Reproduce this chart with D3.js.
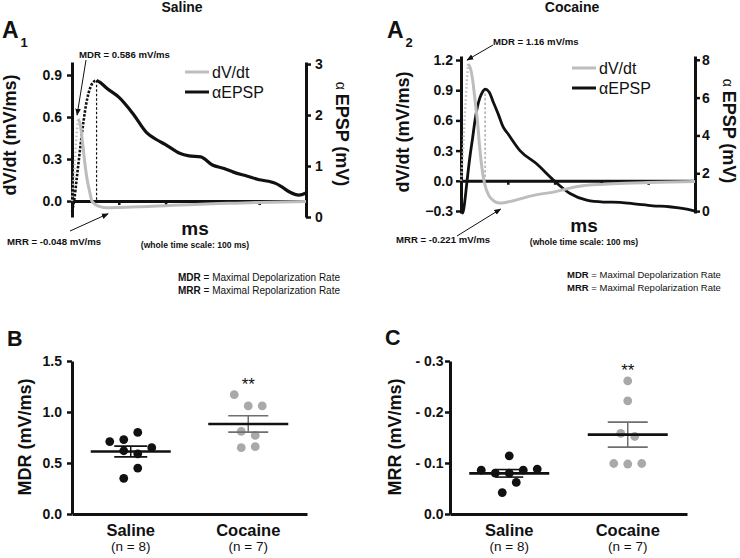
<!DOCTYPE html>
<html><head><meta charset="utf-8">
<script src="https://cdn.jsdelivr.net/npm/d3@7"></script>
<style>
body{margin:0;background:#fff}
svg{display:block}
text{font-family:"Liberation Sans",Arial,Helvetica,sans-serif;fill:#111}
</style>
</head><body>
<svg id="c" width="740" height="558"></svg>
<script>
// ---------------- DATA ----------------
// Panel A1 (Saline) traces, time in ms
const tEpspA1 = [0,1,2,3,4,5,6,7,8,9,10.5,12,15,20,26,32,36,40,46,50,55,60,65,69,75,80,84,87,90,93,97,100];
const epspA1  = [0.1,0.35,0.75,1.15,1.55,1.9,2.2,2.42,2.56,2.64,2.68,2.64,2.52,2.35,2.03,1.65,1.52,1.42,1.25,1.2,1.18,1.02,0.95,0.88,0.8,0.73,0.7,0.66,0.58,0.49,0.43,0.47];
const tDvA1   = [0,1,2,2.6,3.5,4.5,5.5,6.5,7.5,8.5,10,12,15,20,30,40,50,60,70,80,90,100];
const dvA1    = [0,0.22,0.48,0.586,0.55,0.42,0.27,0.15,0.07,0.0,-0.025,-0.04,-0.048,-0.046,-0.04,-0.033,-0.026,-0.02,-0.015,-0.01,-0.006,-0.003];
// Panel A2 (Cocaine) traces
const tEpspA2 = [0,0.8,1.7,2.5,3.8,5,6,7,8.1,9.2,10.3,12,14,16,18,20,25.2,32.3,39.5,46.6,53.7,60.9,68,75,82,89,96.5,100];
const epspA2  = [0.05,-0.1,0.6,1.5,2.86,3.9,4.8,5.5,6.0,6.3,6.45,6.3,5.7,5.1,4.45,4.1,3.2,2.5,1.64,0.93,0.58,0.48,0.46,0.37,0.28,0.23,0.1,0.0];
const tDvA2   = [0,1,2,3,4,5,6,7,8,9,10,12,14,16.5,19,22,26,32,40,46,52,61,70,80,90,100];
const dvA2    = [0,0.35,0.8,1.16,1.12,1.0,0.8,0.6,0.33,0.12,-0.02,-0.15,-0.2,-0.221,-0.215,-0.2,-0.175,-0.14,-0.11,-0.075,-0.05,-0.035,-0.025,-0.018,-0.012,-0.008];
const msTicks = [20,40,60,80];
const dvTicksA1 = [0,0.3,0.6,0.9];
const epspTicksA1 = [0,1,2,3];
const dvTicksA2 = [-0.3,0,0.3,0.6,0.9,1.2];
const epspTicksA2 = [0,2,4,6,8];

// Panels B and C
const groups = ["Saline","Cocaine"];
const groupN = ["(n = 8)","(n = 7)"];
const mdrSaline  = [0.80,0.73,0.71,0.65,0.62,0.59,0.45,0.35];
const mdrCocaine = [1.17,1.06,1.06,0.81,0.77,0.66,0.65];
const mrrSaline  = [-0.114,-0.088,-0.086,-0.086,-0.080,-0.080,-0.062,-0.042];
const mrrCocaine = [-0.261,-0.222,-0.158,-0.152,-0.099,-0.098,-0.099];
const mdrTicks = [0,0.5,1.0,1.5];
const mrrTicks = [0,-0.1,-0.2,-0.3];
// horizontal scatter slots (layout of dots around the group centre)
const slotMdrSaline  = [0.5,-0.5,-1.5,1.5,-0.5,0.5,0.5,-0.5];
const slotMdrCocaine = [-1,0,1,-0.5,0.5,0.5,-0.5];
const slotMrrSaline  = [0,2,-2,1,-1,0,0.5,-0.5];
const slotMrrCocaine = [0,0,-0.5,0.5,-1,0,1];

// ---------------- DRAW ----------------
const svg = d3.select("#c");
const GRAY = "#bdbdbd", DOT_GRAY = "#a9a9a9", BLACK = "#111";

const defs = svg.append("defs");
defs.append("marker").attr("id","arr").attr("viewBox","0 0 10 10").attr("refX",9).attr("refY",5)
  .attr("markerWidth",7).attr("markerHeight",7).attr("markerUnits","userSpaceOnUse").attr("orient","auto")
  .append("path").attr("d","M0,1 L10,5 L0,9 z").attr("fill",BLACK);

function styleAxis(sel, w){
  sel.select("path.domain").attr("stroke",BLACK).attr("stroke-width",w);
  sel.selectAll(".tick line").attr("stroke",BLACK).attr("stroke-width",2.5);
  sel.selectAll(".tick text").attr("fill",BLACK);
}

function label(x,y,txt,size,weight,anchor){
  return svg.append("text").attr("x",x).attr("y",y).text(txt)
    .attr("font-size",size).attr("font-weight",weight||"normal").attr("text-anchor",anchor||"start");
}

function panelA(o){
  const x = d3.scaleLinear().domain([0,100]).range(o.xr);
  const yL = d3.scaleLinear().domain(o.yLd).range(o.yr);
  const yR = d3.scaleLinear().domain(o.yRd).range(o.yr);
  const g = svg.append("g");

  // left axis
  const la = g.append("g").attr("transform",`translate(${o.xr[0]},0)`)
    .call(d3.axisLeft(yL).tickValues(o.dvTicks).tickFormat(d3.format(".1f")).tickSize(5).tickSizeOuter(0).tickPadding(o.lpad));
  la.selectAll(".tick text").attr("font-size",14).attr("font-weight","bold");
  styleAxis(la,3);
  // right axis
  const ra = g.append("g").attr("transform",`translate(${o.xr[1]},0)`)
    .call(d3.axisRight(yR).tickValues(o.epTicks).tickFormat(d3.format("d")).tickSize(5).tickSizeOuter(0).tickPadding(o.rpad));
  ra.selectAll(".tick text").attr("font-size",14).attr("font-weight","bold");
  styleAxis(ra,3);
  // time axis at zero
  const xa = g.append("g").attr("transform",`translate(0,${yL(0)})`)
    .call(d3.axisBottom(x).tickValues(msTicks).tickSize(4).tickSizeOuter(0).tickFormat(""));
  styleAxis(xa,3);

  const line = (ys)=> d3.line().x(d=>x(d[0])).y(d=>ys(d[1])).curve(d3.curveMonotoneX);

  // EPSP peak dashed marker
  const epPts = o.tEp.map((t,i)=>[t,o.ep[i]]);
  const epPeakI = d3.maxIndex(o.ep);
  g.append("line").attr("x1",x(o.tEp[epPeakI])).attr("x2",x(o.tEp[epPeakI]))
    .attr("y1",yR(o.ep[epPeakI])).attr("y2",yL(0))
    .attr("stroke",o.dashCol).attr("stroke-width",1.2).attr("stroke-dasharray","2.5,2");

  // EPSP
  if(o.epRiseDashed){
    g.append("path").datum(epPts.slice(0,epPeakI+1)).attr("d",line(yR))
      .attr("fill","none").attr("stroke",BLACK).attr("stroke-width",2.6).attr("stroke-dasharray","2.5,1.5");
    g.append("path").datum(epPts.slice(epPeakI)).attr("d",line(yR))
      .attr("fill","none").attr("stroke",BLACK).attr("stroke-width",3.2).attr("stroke-linejoin","round");
  } else {
    g.append("path").datum(epPts).attr("d",line(yR))
      .attr("fill","none").attr("stroke",BLACK).attr("stroke-width",2.8).attr("stroke-linejoin","round");
  }

  // dV/dt
  const dvPts = o.tDv.map((t,i)=>[t,o.dv[i]]);
  const dvPeakI = d3.maxIndex(o.dv);
  const dvMinI = d3.minIndex(o.dv);
  g.append("path").datum(dvPts.slice(0,dvPeakI+1)).attr("d",line(yL))
    .attr("fill","none").attr("stroke",GRAY).attr("stroke-width",2.4).attr("stroke-dasharray","1.5,2.5");
  g.append("path").datum(dvPts.slice(dvPeakI)).attr("d",line(yL))
    .attr("fill","none").attr("stroke",GRAY).attr("stroke-width",3);

  // legend
  const lx = o.leg[0], ly = o.leg[1];
  g.append("line").attr("x1",lx).attr("x2",lx+24).attr("y1",ly).attr("y2",ly).attr("stroke",GRAY).attr("stroke-width",3);
  g.append("line").attr("x1",lx).attr("x2",lx+24).attr("y1",ly+20).attr("y2",ly+20).attr("stroke",BLACK).attr("stroke-width",3);
  label(lx+27,ly+5.5,"dV/dt",16);
  label(lx+27,ly+25.5,"αEPSP",16);

  // annotations
  const pk = [x(o.tDv[dvPeakI]), yL(o.dv[dvPeakI])];
  const mn = [x(o.tDv[dvMinI]), yL(o.dv[dvMinI])];
  g.append("line").attr("x1",o.mdrTail[0]).attr("y1",o.mdrTail[1]).attr("x2",pk[0]-1).attr("y2",pk[1]-4)
    .attr("stroke",BLACK).attr("stroke-width",1).attr("marker-end","url(#arr)");
  g.append("line").attr("x1",o.mrrTail[0]).attr("y1",o.mrrTail[1]).attr("x2",mn[0]+1).attr("y2",mn[1]+6)
    .attr("stroke",BLACK).attr("stroke-width",1).attr("marker-end","url(#arr)");
  label(o.mdrText[0],o.mdrText[1],"MDR = "+o.dv[dvPeakI]+" mV/ms",9.6,"bold");
  label(o.mrrText[0],o.mrrText[1],"MRR = "+o.dv[dvMinI]+" mV/ms",9.6,"bold");

  const cx = (o.xr[0]+o.xr[1])/2 + 6;
  label(cx,o.msY,"ms",19,"bold","middle");
  label(cx,o.msY+13,"(whole time scale: 100 ms)",8.6,"bold","middle");

  // axis titles
  svg.append("text").attr("transform",`translate(${o.ylab[0]},${o.ylab[1]}) rotate(-90)`)
    .attr("text-anchor","middle").attr("font-size",18).attr("font-weight","bold").text("dV/dt (mV/ms)");
  const rt = svg.append("text").attr("transform",`translate(${o.rlab[0]},${o.rlab[1]}) rotate(90)`)
    .attr("text-anchor","middle").attr("font-size",18).attr("font-weight","bold");
  rt.append("tspan").attr("font-weight","normal").attr("font-size",14).text("α ");
  rt.append("tspan").text("EPSP (mV)");

  // title + panel letter
  label(o.title[0],o.title[1],o.titleText,14,"bold","middle");
  label(o.letter[0],o.letter[1],"A",23,"bold");
  label(o.letter[0]+18.5,o.letter[1]+9,o.sub,13,"bold");

  // definitions
  const d1 = svg.append("text").attr("x",o.defs[0]).attr("y",o.defs[1]).attr("font-size",o.defSize);
  d1.append("tspan").attr("font-weight","bold").text("MDR");
  d1.append("tspan").text(" = Maximal Depolarization Rate");
  const d2 = svg.append("text").attr("x",o.defs[0]).attr("y",o.defs[1]+12.5).attr("font-size",o.defSize);
  d2.append("tspan").attr("font-weight","bold").text("MRR");
  d2.append("tspan").text(" = Maximal Repolarization Rate");
}

panelA({
  xr:[72,306], yr:[217,62], yLd:[-0.114,0.993], yRd:[0,3.04],
  dvTicks:dvTicksA1, epTicks:epspTicksA1, lpad:5, rpad:4,
  tEp:tEpspA1, ep:epspA1, tDv:tDvA1, dv:dvA1, epRiseDashed:true, dashCol:BLACK,
  leg:[185,72], mdrTail:[86,60], mrrTail:[70,231], mdrText:[79,58], mrrText:[7,245],
  msY:235, ylab:[16,135], rlab:[336,134], title:[182,12], titleText:"Saline",
  letter:[2,38], sub:"1", defs:[178,281], defSize:10
});
panelA({
  xr:[461,695], yr:[213,56], yLd:[-0.32,1.24], yRd:[-0.1,8.2],
  dvTicks:dvTicksA2, epTicks:epspTicksA2, lpad:3, rpad:2,
  tEp:tEpspA2, ep:epspA2, tDv:tDvA2, dv:dvA2, epRiseDashed:false, dashCol:"#999",
  leg:[572,68], mdrTail:[493,45], mrrTail:[457,236], mdrText:[493,45], mrrText:[396,243],
  msY:232, ylab:[409,132], rlab:[723,131], title:[572,12], titleText:"Cocaine",
  letter:[387,38], sub:"2", defs:[567,278], defSize:9.5
});

function scatterPanel(o){
  const x = d3.scalePoint().domain(groups).range(o.xr).padding(0.5);
  const y = d3.scaleLinear().domain(o.yd).range([514,361]);
  const g = svg.append("g");
  const ya = g.append("g").attr("transform",`translate(${o.xr[0]},0)`)
    .call(d3.axisLeft(y).tickValues(o.ticks).tickFormat(o.fmt).tickSize(5).tickSizeOuter(0).tickPadding(o.pad));
  ya.selectAll(".tick text").attr("font-size",14).attr("font-weight","bold");
  styleAxis(ya,3);
  const xa = g.append("g").attr("transform",`translate(0,514)`)
    .call(d3.axisBottom(x).tickSize(0).tickSizeOuter(0).tickFormat(""));
  styleAxis(xa,3.2);

  const SLOT = 14, R = 4.4;
  o.series.forEach((s,gi)=>{
    const cx = x(groups[gi]);
    g.selectAll(null).data(s.vals).enter().append("circle")
      .attr("cx",(d,i)=>cx + s.slots[i]*SLOT).attr("cy",d=>y(d)).attr("r",R)
      .attr("fill",s.col);
    const m = d3.mean(s.vals), sem = d3.deviation(s.vals)/Math.sqrt(s.vals.length);
    const sign = o.yd[1] < 0 ? -1 : 1;
    const semCol = gi===0 ? BLACK : "#6f6f6f";
    g.append("line").attr("x1",cx).attr("x2",cx).attr("y1",y(m+sign*sem)).attr("y2",y(m-sign*sem)).attr("stroke",semCol).attr("stroke-width",1.5);
    [m+sign*sem, m-sign*sem].forEach(v=>{
      g.append("line").attr("x1",cx-s.ww).attr("x2",cx+s.ww).attr("y1",y(v)).attr("y2",y(v)).attr("stroke",semCol).attr("stroke-width",1.6);
    });
    g.append("line").attr("x1",cx-40).attr("x2",cx+40).attr("y1",y(m)).attr("y2",y(m)).attr("stroke",BLACK).attr("stroke-width",2.6);
    if(s.star){
      const top = o.yd[1] < 0 ? d3.min(s.vals) : d3.max(s.vals);
      label(cx,y(top)-R,"**",17,"normal","middle");
    }
    label(cx,536,groups[gi],16.5,"bold","middle");
    label(cx,551,groupN[gi],13.5,"normal","middle");
  });
  svg.append("text").attr("transform",`translate(${o.ylab},437) rotate(-90)`)
    .attr("text-anchor","middle").attr("font-size",18).attr("font-weight","bold").text(o.ytitle);
  label(o.letter[0],o.letter[1],o.letterText,21.5,"bold");
}

scatterPanel({
  xr:[72,307], yd:[0,1.5], ticks:mdrTicks, fmt:d3.format(".1f"), pad:5,
  series:[{vals:mdrSaline,slots:slotMdrSaline,col:BLACK,ww:16.5,star:false},
          {vals:mdrCocaine,slots:slotMdrCocaine,col:DOT_GRAY,ww:20,star:true}],
  ylab:31, ytitle:"MDR (mV/ms)", letter:[7,346], letterText:"B"
});
scatterPanel({
  xr:[450,687], yd:[0,-0.3], ticks:mrrTicks, fmt:d=> d===0 ? "0.0" : "- "+d3.format(".1f")(Math.abs(d)), pad:1.5,
  series:[{vals:mrrSaline,slots:slotMrrSaline,col:BLACK,ww:14,star:false},
          {vals:mrrCocaine,slots:slotMrrCocaine,col:DOT_GRAY,ww:20,star:true}],
  ylab:401, ytitle:"MRR (mV/ms)", letter:[385,345], letterText:"C"
});
</script>
</body></html>
